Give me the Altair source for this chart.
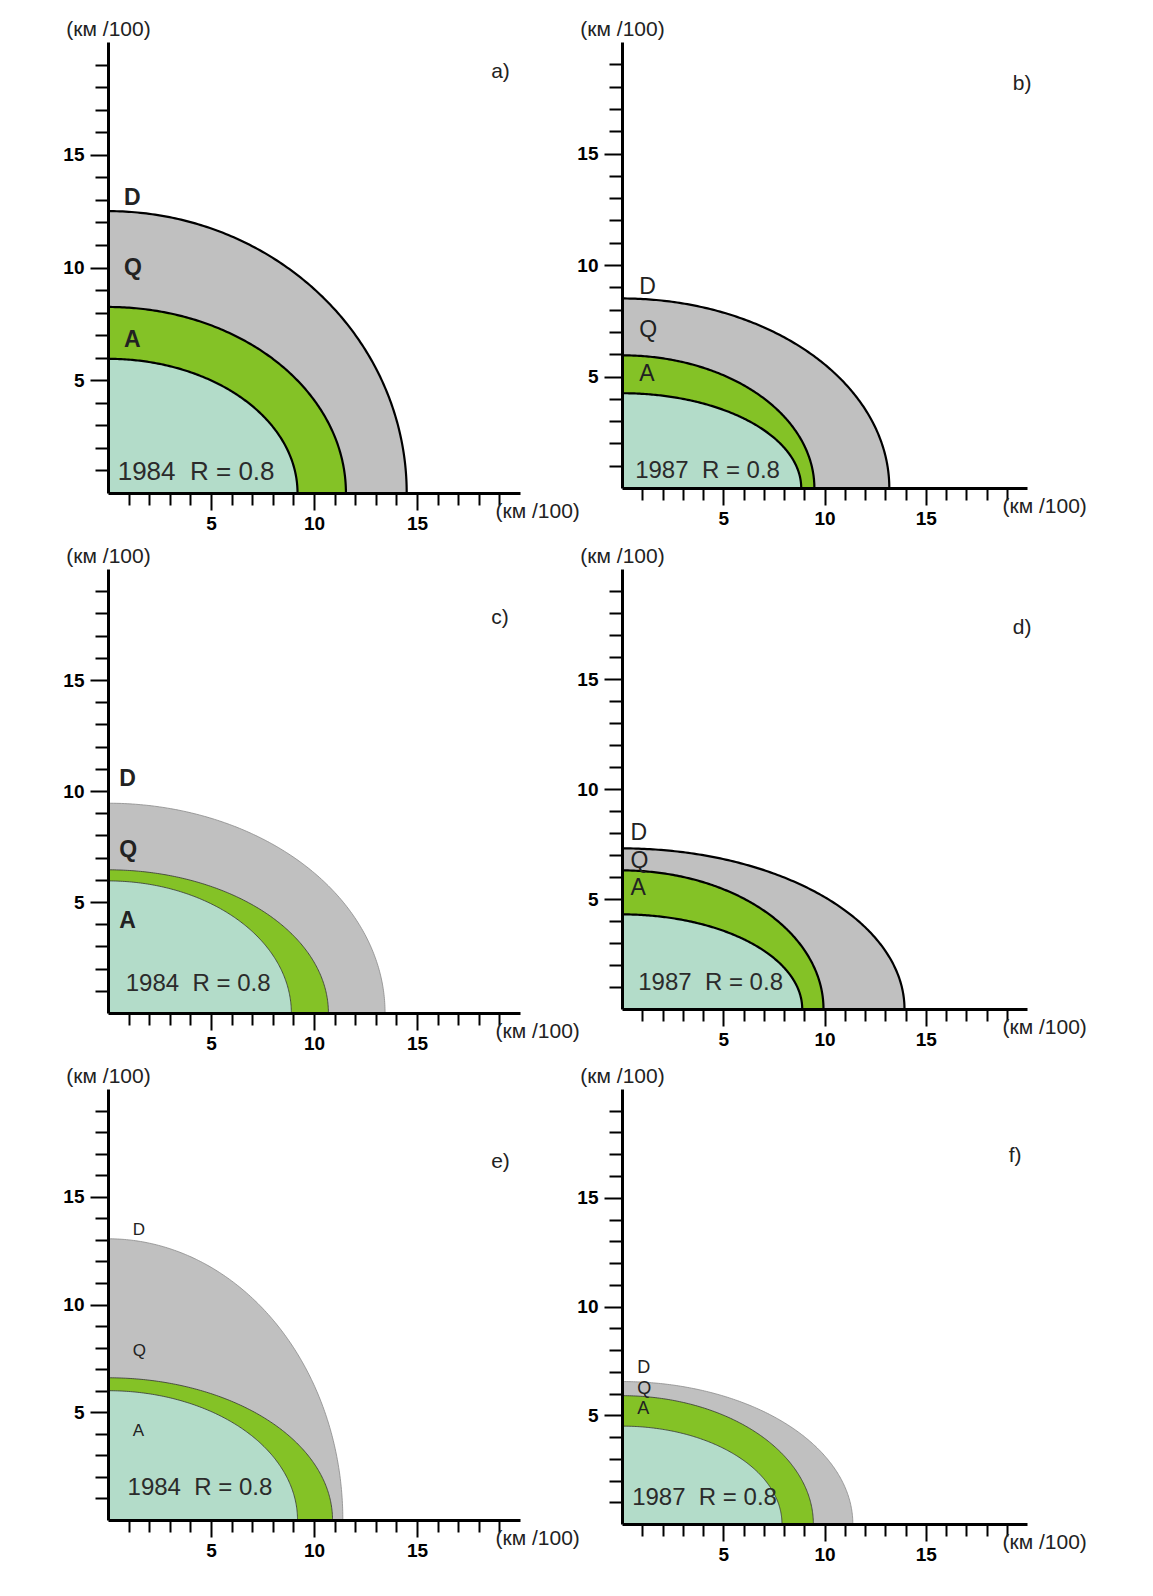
import altair as alt
import numpy as np
import pandas as pd

# ---- data (units: km/100) ----
panel_tags = ["a)", "b)", "c)", "d)", "e)", "f)"]
years = ["1984", "1987", "1984", "1987", "1984", "1987"]
r_text = "R = 0.8"

inner_rx = [9.2, 8.85, 8.9, 8.9, 9.2, 7.9]
inner_ry = [5.95, 4.25, 5.95, 4.3, 6.0, 4.5]
green_rx = [11.55, 9.5, 10.7, 9.95, 10.9, 9.45]
green_ry = [8.25, 5.95, 6.45, 6.3, 6.6, 5.9]
grey_rx = [14.5, 13.2, 13.45, 13.95, 11.4, 11.4]
grey_ry = [12.5, 8.5, 9.45, 7.3, 13.05, 6.55]

zone_labels = ["D", "Q", "A"]
label_x = [0.78, 0.85, 0.55, 0.42, 1.2, 0.75]
label_d_y = [13.1, 9.0, 10.55, 7.98, 13.48, 7.16]
label_q_y = [10.0, 7.07, 7.34, 6.72, 7.85, 6.22]
label_a_y = [6.79, 5.1, 4.13, 5.5, 4.12, 5.28]
year_x = [0.47, 0.65, 0.86, 0.8, 0.95, 0.5]
year_y = [0.95, 0.78, 1.3, 1.18, 1.5, 1.19]
tag_x = [18.6, 19.3, 18.6, 19.3, 18.6, 19.1]
tag_y = [18.66, 18.1, 17.8, 17.3, 16.6, 16.9]

tick_values = list(range(1, 20))
axis_title = "(км /100)"

# ---- styling ----
FONT = "Liberation Sans"
C_INNER = "#b3dcc9"
C_GREEN = "#84c226"
C_GREY = "#c0c0c0"
widths = [412, 405, 412, 405, 412, 405]
heights = [451, 446, 444, 440, 431, 435]
label_bold = [True, False, True, False, False, False]
label_size = [23, 23, 23, 23, 17, 18]
year_size = [26, 24, 24, 24, 24, 24]
thick = [True, True, False, True, False, False]


def quarter(rx, ry, zone, n=160):
    t = np.linspace(0.0, np.pi / 2, n)
    return pd.DataFrame({"zone": zone, "t": t, "x": rx * np.cos(t), "y": ry * np.sin(t)})


def panel(i):
    df = pd.concat([
        quarter(grey_rx[i], grey_ry[i], "grey"),
        quarter(green_rx[i], green_ry[i], "green"),
        quarter(inner_rx[i], inner_ry[i], "inner"),
    ], ignore_index=True)

    xaxis = alt.Axis(
        values=tick_values,
        labelExpr="datum.value % 5 == 0 ? datum.label : ''",
        tickSize={"condition": {"test": "datum.value % 5 == 0", "value": 17}, "value": 12},
        tickWidth=2, tickColor="black",
        domainWidth=3, domainColor="black",
        labelFont=FONT, labelFontSize=19, labelFontWeight="bold", labelColor="black",
        labelPadding=4,
        grid=False, zindex=1,
        title=axis_title, titleFont=FONT, titleFontSize=21, titleFontWeight="normal",
        titleColor="#222", titleAngle=0, titleAlign="left", titleBaseline="middle",
        titleX=int(widths[i] * 19 / 20) - 4, titleY=18,
    )
    yaxis = alt.Axis(
        values=tick_values,
        labelExpr="datum.value % 5 == 0 ? datum.label : ''",
        tickSize={"condition": {"test": "datum.value % 5 == 0", "value": 18}, "value": 13},
        tickWidth=2, tickColor="black",
        domainWidth=3, domainColor="black",
        labelFont=FONT, labelFontSize=19, labelFontWeight="bold", labelColor="black",
        labelPadding=6,
        grid=False, zindex=1,
        title=axis_title, titleFont=FONT, titleFontSize=21, titleFontWeight="normal",
        titleColor="#222", titleAngle=0, titleAlign="center", titleBaseline="bottom",
        titleX=0, titleY=-3,
    )
    xs = alt.Scale(domain=[0, 20], nice=False, zero=True)
    ys = alt.Scale(domain=[0, 20], nice=False, zero=True)
    X = alt.X("x:Q", scale=xs, axis=xaxis)
    Y = alt.Y("y:Q", scale=ys, axis=yaxis, stack=None)

    base = alt.Chart(df)
    layers = []
    for zone, col in [("grey", C_GREY), ("green", C_GREEN), ("inner", C_INNER)]:
        layers.append(
            base.transform_filter(alt.datum.zone == zone)
            .mark_area(color=col, opacity=1)
            .encode(x=X, y=Y)
        )
    for zone in ["grey", "green", "inner"]:
        if thick[i]:
            col, sw = "black", 2.2
        else:
            col = "#8a8a8a" if zone == "grey" else "#333333"
            sw = 0.8
        layers.append(
            base.transform_filter(alt.datum.zone == zone)
            .mark_line(color=col, strokeWidth=sw)
            .encode(x=X, y=Y, order="t:Q")
        )

    lab_df = pd.DataFrame({
        "x": [label_x[i]] * 3,
        "y": [label_d_y[i], label_q_y[i], label_a_y[i]],
        "txt": zone_labels,
    })
    layers.append(
        alt.Chart(lab_df).mark_text(
            align="left", baseline="middle", font=FONT, fontSize=label_size[i],
            fontWeight="bold" if label_bold[i] else "normal", color="#222",
        ).encode(x=X, y=Y, text="txt:N")
    )
    yr_df = pd.DataFrame({"x": [year_x[i]], "y": [year_y[i]],
                          "txt": [years[i] + "\u00a0\u00a0" + r_text]})
    layers.append(
        alt.Chart(yr_df).mark_text(
            align="left", baseline="middle", font=FONT, fontSize=year_size[i], color="#2b2b2b",
        ).encode(x=X, y=Y, text="txt:N")
    )
    tag_df = pd.DataFrame({"x": [tag_x[i]], "y": [tag_y[i]], "txt": [panel_tags[i]]})
    layers.append(
        alt.Chart(tag_df).mark_text(
            align="left", baseline="middle", font=FONT, fontSize=21, color="#222",
        ).encode(x=X, y=Y, text="txt:N")
    )
    return alt.layer(*layers).properties(width=widths[i], height=heights[i])


chart = alt.concat(
    *[panel(i) for i in range(6)],
    columns=2,
    spacing={"row": 76, "column": 102},
    bounds="flush",
).properties(
    padding={"left": 54, "top": 10, "right": 5, "bottom": 5}
).configure_view(stroke=None)

chart.save("out.html", embed_options={"renderer": "svg", "actions": False})
